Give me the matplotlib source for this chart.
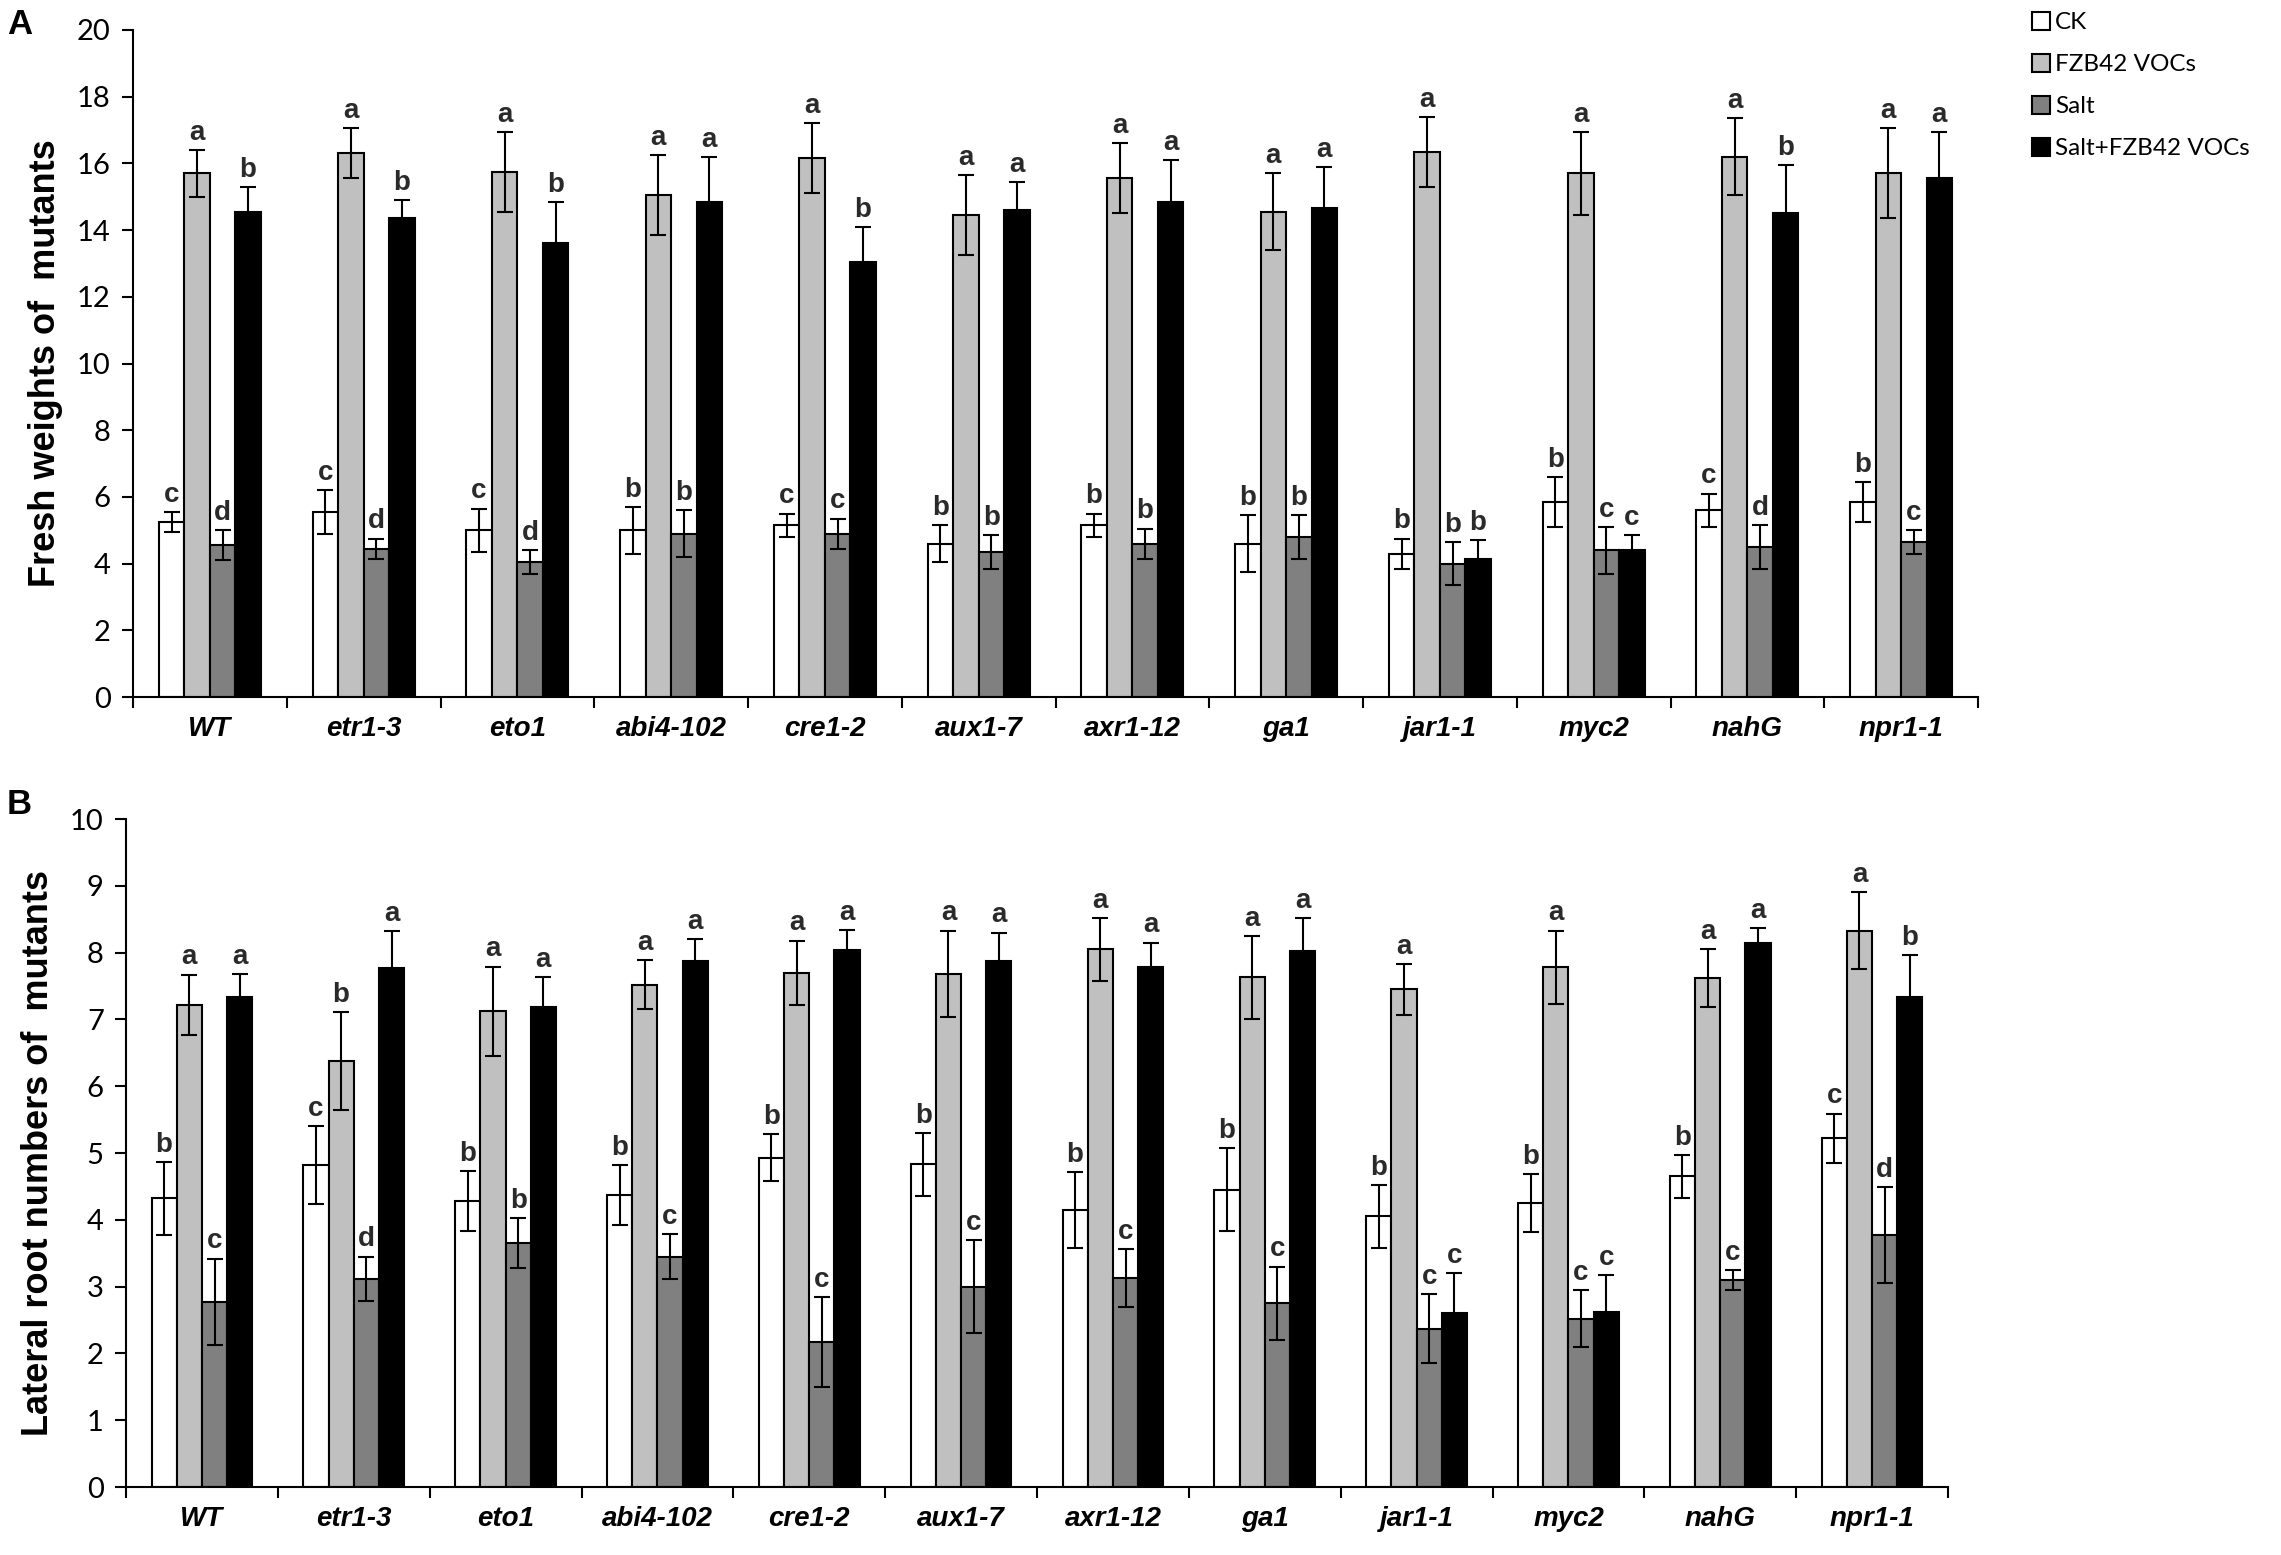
import matplotlib
matplotlib.use("Agg")
import matplotlib.pyplot as plt
from matplotlib.patches import Patch
import numpy as np

genotypes = ["WT", "etr1-3", "eto1", "abi4-102", "cre1-2", "aux1-7",
             "axr1-12", "ga1", "jar1-1", "myc2", "nahG", "npr1-1"]
series = ["CK", "FZB42 VOCs", "Salt", "Salt+FZB42 VOCs"]

# Panel A: fresh weights
fw_ck = [5.25, 5.55, 5.0, 5.0, 5.15, 4.6, 5.15, 4.6, 4.3, 5.85, 5.6, 5.85]
fw_ck_err = [0.3, 0.65, 0.65, 0.7, 0.35, 0.55, 0.35, 0.85, 0.45, 0.75, 0.5, 0.6]
fw_fzb = [15.7, 16.3, 15.75, 15.05, 16.15, 14.45, 15.55, 14.55, 16.35, 15.7, 16.2, 15.7]
fw_fzb_err = [0.7, 0.75, 1.2, 1.2, 1.05, 1.2, 1.05, 1.15, 1.05, 1.25, 1.15, 1.35]
fw_salt = [4.55, 4.45, 4.05, 4.9, 4.9, 4.35, 4.6, 4.8, 4.0, 4.4, 4.5, 4.65]
fw_salt_err = [0.45, 0.3, 0.35, 0.7, 0.45, 0.5, 0.45, 0.65, 0.65, 0.7, 0.65, 0.35]
fw_sf = [14.55, 14.35, 13.6, 14.85, 13.05, 14.6, 14.85, 14.65, 4.15, 4.4, 14.5, 15.55]
fw_sf_err = [0.75, 0.55, 1.25, 1.35, 1.05, 0.85, 1.25, 1.25, 0.55, 0.45, 1.45, 1.4]
fw_letters = [
    ["c", "a", "d", "b"], ["c", "a", "d", "b"], ["c", "a", "d", "b"],
    ["b", "a", "b", "a"], ["c", "a", "c", "b"], ["b", "a", "b", "a"],
    ["b", "a", "b", "a"], ["b", "a", "b", "a"], ["b", "a", "b", "b"],
    ["b", "a", "c", "c"], ["c", "a", "d", "b"], ["b", "a", "c", "a"],
]

# Panel B: lateral root numbers
lr_ck = [4.32, 4.82, 4.28, 4.37, 4.93, 4.83, 4.15, 4.45, 4.05, 4.25, 4.65, 5.22]
lr_ck_err = [0.55, 0.58, 0.45, 0.45, 0.35, 0.47, 0.57, 0.62, 0.47, 0.43, 0.32, 0.37]
lr_fzb = [7.22, 6.38, 7.12, 7.52, 7.7, 7.68, 8.05, 7.63, 7.45, 7.78, 7.62, 8.33]
lr_fzb_err = [0.45, 0.73, 0.67, 0.37, 0.48, 0.65, 0.47, 0.62, 0.38, 0.55, 0.43, 0.58]
lr_salt = [2.77, 3.12, 3.65, 3.45, 2.17, 3.0, 3.13, 2.75, 2.37, 2.52, 3.1, 3.77]
lr_salt_err = [0.65, 0.33, 0.37, 0.33, 0.67, 0.7, 0.43, 0.55, 0.52, 0.43, 0.15, 0.72]
lr_sf = [7.33, 7.77, 7.18, 7.87, 8.04, 7.88, 7.78, 8.02, 2.6, 2.62, 8.15, 7.33]
lr_sf_err = [0.35, 0.55, 0.45, 0.33, 0.3, 0.42, 0.37, 0.5, 0.6, 0.55, 0.22, 0.63]
lr_letters = [
    ["b", "a", "c", "a"], ["c", "b", "d", "a"], ["b", "a", "b", "a"],
    ["b", "a", "c", "a"], ["b", "a", "c", "a"], ["b", "a", "c", "a"],
    ["b", "a", "c", "a"], ["b", "a", "c", "a"], ["b", "a", "c", "c"],
    ["b", "a", "c", "c"], ["b", "a", "c", "a"], ["c", "a", "d", "b"],
]

colors = ["white", "#c0c0c0", "#808080", "black"]

W, H = 2281, 1555
fig = plt.figure(figsize=(W / 100, H / 100), dpi=100)

tick_font = "Lato"
lw = 1.5


def draw_panel(ax, vals, errs, letters, ymax, ystep, ylabel):
    x = np.arange(len(genotypes))
    bw = 0.166
    offsets = (np.arange(4) - 1.5) * bw
    for k in range(4):
        ax.bar(x + offsets[k], vals[k], bw, color=colors[k], edgecolor="black",
               linewidth=lw, zorder=2)
        ax.errorbar(x + offsets[k], vals[k], yerr=errs[k], fmt="none",
                    ecolor="black", elinewidth=lw, capsize=5.5, capthick=lw,
                    zorder=3)
        for i in range(len(genotypes)):
            ax.annotate(letters[i][k], (x[i] + offsets[k], vals[k][i] + errs[k][i]),
                        xytext=(0, 3), textcoords="offset points",
                        ha="center", va="bottom", fontsize=20,
                        fontweight="bold", color="#2a2a2a",
                        family="Liberation Sans")
    ax.set_xlim(-0.5, len(genotypes) - 0.5)
    ax.set_ylim(0, ymax)
    ticks = np.arange(0, ymax + 0.001, ystep)
    ax.set_yticks(ticks)
    ax.set_yticklabels([f"{v:g}" for v in ticks], fontsize=21, family=tick_font)
    ax.set_xticks(np.arange(-0.5, len(genotypes), 1.0))
    ax.set_xticklabels([])
    ax.set_xticks(x, minor=True)
    ax.set_xticklabels(genotypes, minor=True, fontsize=20, fontweight="bold",
                       fontstyle="italic", family="Liberation Sans")
    ax.tick_params(axis="x", which="minor", length=0, pad=14)
    ax.tick_params(axis="x", which="major", length=8, width=lw, direction="out")
    ax.tick_params(axis="y", length=8, width=lw, direction="out", pad=8)
    for s in ["top", "right"]:
        ax.spines[s].set_visible(False)
    for s in ["left", "bottom"]:
        ax.spines[s].set_linewidth(lw)
    ax.set_ylabel(ylabel, fontsize=26, fontweight="bold", family="Liberation Sans",
                  labelpad=10)


axA = fig.add_axes([133 / W, 1 - 697 / H, (1978 - 133) / W, (697 - 30) / H])
draw_panel(axA, [fw_ck, fw_fzb, fw_salt, fw_sf],
           [fw_ck_err, fw_fzb_err, fw_salt_err, fw_sf_err],
           fw_letters, 20, 2, "Fresh weights of  mutants")

axB = fig.add_axes([126 / W, 1 - 1487 / H, (1948 - 126) / W, (1487 - 819) / H])
draw_panel(axB, [lr_ck, lr_fzb, lr_salt, lr_sf],
           [lr_ck_err, lr_fzb_err, lr_salt_err, lr_sf_err],
           lr_letters, 10, 1, "Lateral root numbers of  mutants")

fig.text(7 / W, 1 - 8 / H, "A", fontsize=25, fontweight="bold",
         family="Liberation Sans", va="top", ha="left")
fig.text(7 / W, 1 - 788 / H, "B", fontsize=25, fontweight="bold",
         family="Liberation Sans", va="top", ha="left")

handles = [Patch(facecolor=c, edgecolor="black", linewidth=lw) for c in colors]
fig.legend(handles, series, loc="upper left",
           bbox_to_anchor=(2032 / W, 1 - 12 / H), frameon=False,
           prop={"family": tick_font, "size": 17.5}, handlelength=0.75,
           handleheight=0.75, handletextpad=0.2, labelspacing=0.85,
           borderaxespad=0, borderpad=0)

fig.savefig("out.png", dpi=100)
